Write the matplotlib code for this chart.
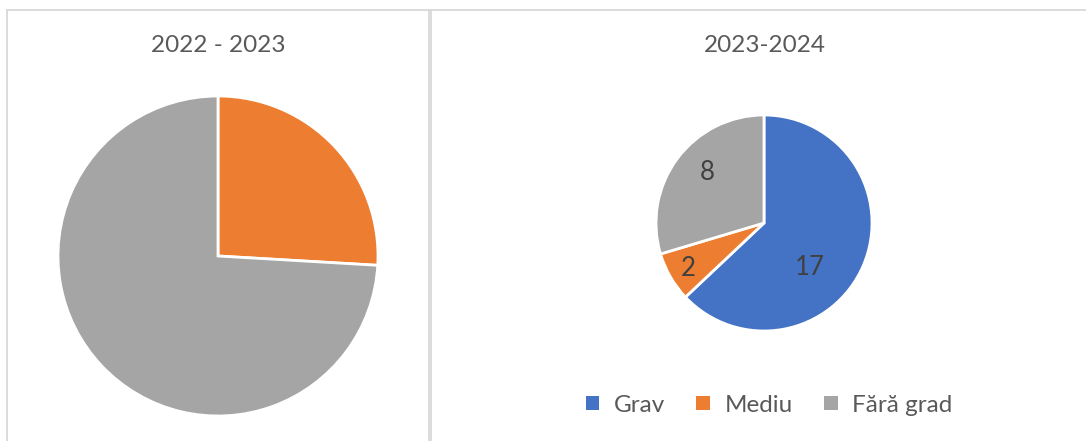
import matplotlib.pyplot as plt
from matplotlib.lines import Line2D
from matplotlib.patches import Patch

categories = ['Grav', 'Mediu', 'Fără grad']
values_2022 = [0, 7, 20]
values_2023 = [17, 2, 8]
titles = ['2022 - 2023', '2023-2024']
colors = ['#4472C4', '#ED7D31', '#A5A5A5']

plt.rcParams['font.family'] = ['Lato', 'DejaVu Sans']

W, H = 1086, 441
fig = plt.figure(figsize=(W / 100, H / 100), dpi=100)


def px_axes(cx, cy, r):
    # pie box from pixel centre / radius (y from top)
    return fig.add_axes([(cx - r) / W, (H - cy - r) / H, 2 * r / W, 2 * r / H])


# panel borders
border = '#D9D9D9'
for xs, ys in [([7, 7], [0, 431]), ([7, 429], [431, 431]), ([429, 429], [0, 431]),
               ([431, 431], [0, 431]), ([431, 1086], [431, 431])]:
    fig.add_artist(Line2D([x / W for x in xs], [y / H for y in ys], color=border, lw=1.3))

# left pie
ax1 = px_axes(218, 256, 160)
ax1.pie(values_2022, colors=colors, startangle=90, counterclock=False,
        wedgeprops=dict(edgecolor='white', linewidth=2))
ax1.set_xlim(-1, 1)
ax1.set_ylim(-1, 1)
ax1.set_aspect('auto')
fig.text(218 / W, 1 - 46 / H, titles[0], ha='center', va='center', fontsize=17.5, color='#595959')

# right pie
ax2 = px_axes(764, 223, 108)
wedges, _ = ax2.pie(values_2023, colors=colors, startangle=90, counterclock=False,
                    wedgeprops=dict(edgecolor='white', linewidth=2))
ax2.set_xlim(-1, 1)
ax2.set_ylim(-1, 1)
ax2.set_aspect('auto')
label_pos = [(0.42, -0.41), (-0.70, -0.42), (-0.53, 0.47)]
for v, (x, y) in zip(values_2023, label_pos):
    ax2.text(x, y, str(v), ha='center', va='center', fontsize=18.5, color='#404040')
fig.text(765 / W, 1 - 46 / H, titles[1], ha='center', va='center', fontsize=17.5, color='#595959')

handles = [Patch(facecolor=c, edgecolor='none') for c in colors]
fig.legend(handles, categories, loc='center', bbox_to_anchor=(769 / W, 1 - 405 / H),
           ncol=3, frameon=False, fontsize=17.5, labelcolor='#595959',
           handlelength=0.55, handleheight=0.55, handletextpad=0.6, columnspacing=1.3)

fig.savefig('out.png', dpi=100)
